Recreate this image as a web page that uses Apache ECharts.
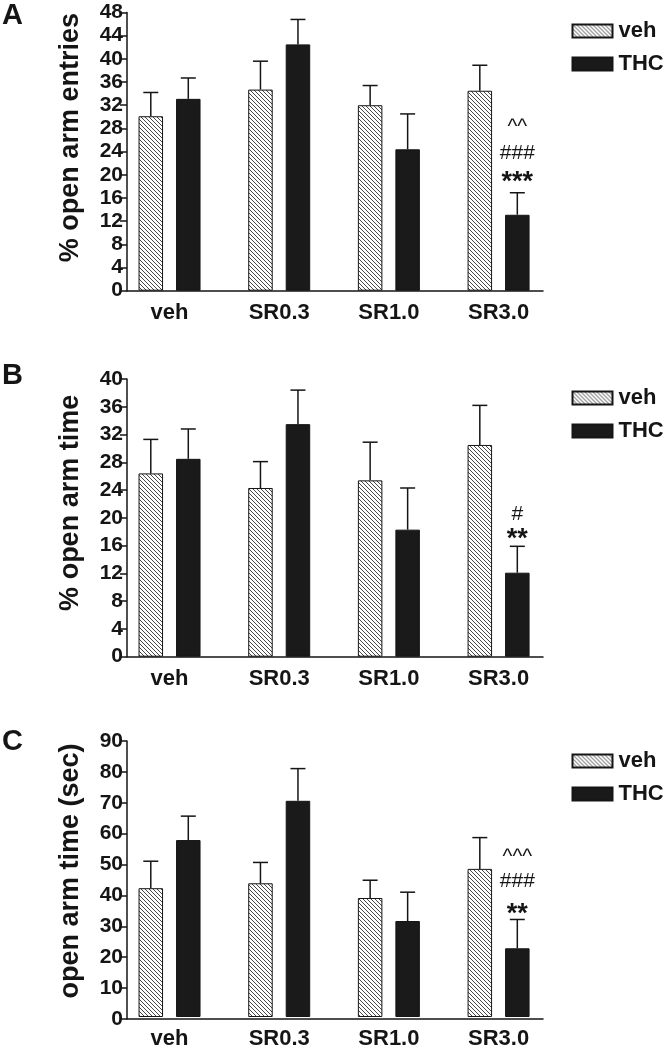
<!DOCTYPE html>
<html><head><meta charset="utf-8">
<script src="https://cdn.jsdelivr.net/npm/echarts@6/dist/echarts.min.js"></script>
<style>html,body{margin:0;padding:0;background:#fff}#c{width:665px;height:1050px}</style>
</head><body><div id="c"></div>
<script>
// ---- data ----
const categories = ['veh', 'SR0.3', 'SR1.0', 'SR3.0'];
const seriesNames = ['veh', 'THC'];

const entriesVeh = [30.1, 34.7, 32.0, 34.5];
const entriesVehSem = [4.1, 4.9, 3.4, 4.4];
const entriesThc = [33.1, 42.5, 24.4, 13.1];
const entriesThcSem = [3.6, 4.3, 6.1, 3.8];

const pctTimeVeh = [26.4, 24.3, 25.4, 30.5];
const pctTimeVehSem = [4.9, 3.8, 5.5, 5.7];
const pctTimeThc = [28.5, 33.5, 18.3, 12.1];
const pctTimeThcSem = [4.3, 4.9, 6.0, 3.8];

const secTimeVeh = [42.0, 43.6, 38.8, 48.3];
const secTimeVehSem = [8.8, 6.8, 5.8, 10.2];
const secTimeThc = [57.7, 70.5, 31.3, 22.4];
const secTimeThcSem = [7.8, 10.5, 9.4, 9.4];

const annotA = ['***', '###', '^^'];
const annotB = ['**', '#'];
const annotC = ['**', '###', '^^^'];

const panelLetters = ['A', 'B', 'C'];
const yTitles = ['% open arm entries', '% open arm time', 'open arm time (sec)'];
const yMax = [48, 40, 90];
const yInterval = [4, 4, 10];

// ---- layout / style ----
const FONT = '"Liberation Sans", Arial, Helvetica, sans-serif';
const INK = '#151515';
const BAR_W = 24.5, BAR_GAP = 13, CAP = 15;
const OFFSET = (BAR_W + BAR_GAP) / 2;
const AX_LEFT = 127, AX_RIGHT = 543;
const BAND_LEFT = 114.7, BAND_W = 438.7;
const panelTop = [12.5, 379, 741];
const panelH = [278.2, 277.7, 278];
const legendTop = [20, 387, 750];
const titleTop = [1, 361, 727];
const yTitleShift = [28, 30, 18];   // shifts axis titles upward (px * 2)
// annotation line offsets (px above error-bar top) per panel
const annotDy = [[-10, -40, -66], [-7, -32], [-5, -38, -62]];

function hatch() {
  const s = 4;
  const c = document.createElement('canvas');
  c.width = s; c.height = s;
  const g = c.getContext('2d');
  g.fillStyle = '#fff'; g.fillRect(0, 0, s, s);
  g.strokeStyle = '#333'; g.lineWidth = 0.9;
  g.beginPath();
  for (const o of [-s, 0, s]) { g.moveTo(o - 1, -1); g.lineTo(o + s + 1, s + 1); }
  g.stroke();
  return c;
}
const hatchPattern = { image: hatch(), repeat: 'repeat' };

const panels = [
  { veh: entriesVeh, vehSem: entriesVehSem, thc: entriesThc, thcSem: entriesThcSem, annot: annotA },
  { veh: pctTimeVeh, vehSem: pctTimeVehSem, thc: pctTimeThc, thcSem: pctTimeThcSem, annot: annotB },
  { veh: secTimeVeh, vehSem: secTimeVehSem, thc: secTimeThc, thcSem: secTimeThcSem, annot: annotC }
];

const option = {
  animation: false,
  backgroundColor: '#fff',
  textStyle: { fontFamily: FONT },
  title: [], grid: [], xAxis: [], yAxis: [], legend: [], series: []
};

panels.forEach((p, k) => {
  const gAxis = 2 * k, gBars = 2 * k + 1;
  option.title.push({
    text: panelLetters[k], left: 2, top: titleTop[k], padding: 0,
    textStyle: { fontFamily: FONT, fontSize: 29, fontWeight: 'bold', color: INK }
  });
  option.grid.push({ left: AX_LEFT, top: panelTop[k], width: AX_RIGHT - AX_LEFT, height: panelH[k] });
  option.grid.push({ left: BAND_LEFT, top: panelTop[k], width: BAND_W, height: panelH[k] });

  // axis frame grid
  option.xAxis.push({
    gridIndex: gAxis, type: 'value', min: 0, max: 1,
    axisLine: { show: true, lineStyle: { color: INK, width: 1.5 } },
    axisTick: { show: false }, axisLabel: { show: false }, splitLine: { show: false }
  });
  option.yAxis.push({
    gridIndex: gAxis, type: 'value', min: 0, max: yMax[k], interval: yInterval[k],
    name: yTitles[k], nameLocation: 'middle', nameGap: 43,
    nameTextStyle: { fontFamily: FONT, fontSize: 27, fontWeight: 'bold', color: INK,
      padding: [0, 0, 0, yTitleShift[k]] },
    axisLine: { show: true, lineStyle: { color: INK, width: 1.5 } },
    axisTick: { show: true, length: 7, lineStyle: { color: INK, width: 1.5 } },
    axisLabel: { fontFamily: FONT, fontSize: 21, fontWeight: 'bold', color: INK, margin: 4 },
    splitLine: { show: false }
  });
  // bars grid
  option.xAxis.push({
    gridIndex: gBars, type: 'category', data: categories,
    axisLine: { show: false }, axisTick: { show: false },
    axisLabel: { fontFamily: FONT, fontSize: 22, fontWeight: 'bold', color: INK, margin: 11 }
  });
  option.yAxis.push({
    gridIndex: gBars, type: 'value', min: 0, max: yMax[k], interval: yInterval[k], show: false
  });

  option.legend.push({
    data: seriesNames, orient: 'vertical', left: 571.5, top: legendTop[k], padding: 0,
    itemWidth: 40, itemHeight: 13, itemGap: 11, icon: 'rect', selectedMode: false,
    textStyle: { fontFamily: FONT, fontSize: 22, fontWeight: 'bold', color: INK, padding: [0, 0, 0, 1] }
  });

  option.series.push({
    name: 'veh', type: 'bar', xAxisIndex: gBars, yAxisIndex: gBars, data: p.veh,
    barWidth: BAR_W, barGap: (BAR_GAP / BAR_W * 100) + '%',
    itemStyle: { color: hatchPattern, borderColor: INK, borderWidth: 1 }
  });
  option.series.push({
    name: 'THC', type: 'bar', xAxisIndex: gBars, yAxisIndex: gBars, data: p.thc,
    barWidth: BAR_W, barGap: (BAR_GAP / BAR_W * 100) + '%',
    itemStyle: { color: '#1a1a1a', borderColor: INK, borderWidth: 1 }
  });

  const errData = [];
  p.veh.forEach((v, i) => errData.push([i, v, v + p.vehSem[i], -1]));
  p.thc.forEach((v, i) => errData.push([i, v, v + p.thcSem[i], 1]));
  option.series.push({
    name: 'sem' + k, type: 'custom', xAxisIndex: gBars, yAxisIndex: gBars, clip: false, z: 3,
    data: errData, encode: { x: 0, y: [1, 2] },
    renderItem: (params, api) => {
      const cat = api.value(0), side = api.value(3);
      const b = api.coord([cat, api.value(1)]);
      const t = api.coord([cat, api.value(2)]);
      const x = b[0] + side * OFFSET;
      const st = { stroke: INK, lineWidth: 1.5 };
      return { type: 'group', children: [
        { type: 'line', shape: { x1: x, y1: b[1], x2: x, y2: t[1] }, style: st },
        { type: 'line', shape: { x1: x - CAP / 2, y1: t[1], x2: x + CAP / 2, y2: t[1] }, style: st }
      ]};
    }
  });

  const last = categories.length - 1;
  option.series.push({
    name: 'annot' + k, type: 'custom', xAxisIndex: gBars, yAxisIndex: gBars, clip: false, z: 4,
    data: [[last, p.thc[last] + p.thcSem[last]]], encode: { x: 0, y: 1 },
    renderItem: (params, api) => {
      const t = api.coord([api.value(0), api.value(1)]);
      const x = t[0] + OFFSET;
      return { type: 'group', children: p.annot.map((s, j) => {
        const star = s.indexOf('*') >= 0;
        return { type: 'text', x: x, y: t[1] + annotDy[k][j], style: {
          text: s, align: 'center', verticalAlign: 'middle', fill: INK,
          font: (star ? 'bold 27px ' : '21px ') + FONT
        }};
      })};
    }
  });
});

const chart = echarts.init(document.getElementById('c'), null, { renderer: 'canvas' });
chart.setOption(option);
</script>
</body></html>
